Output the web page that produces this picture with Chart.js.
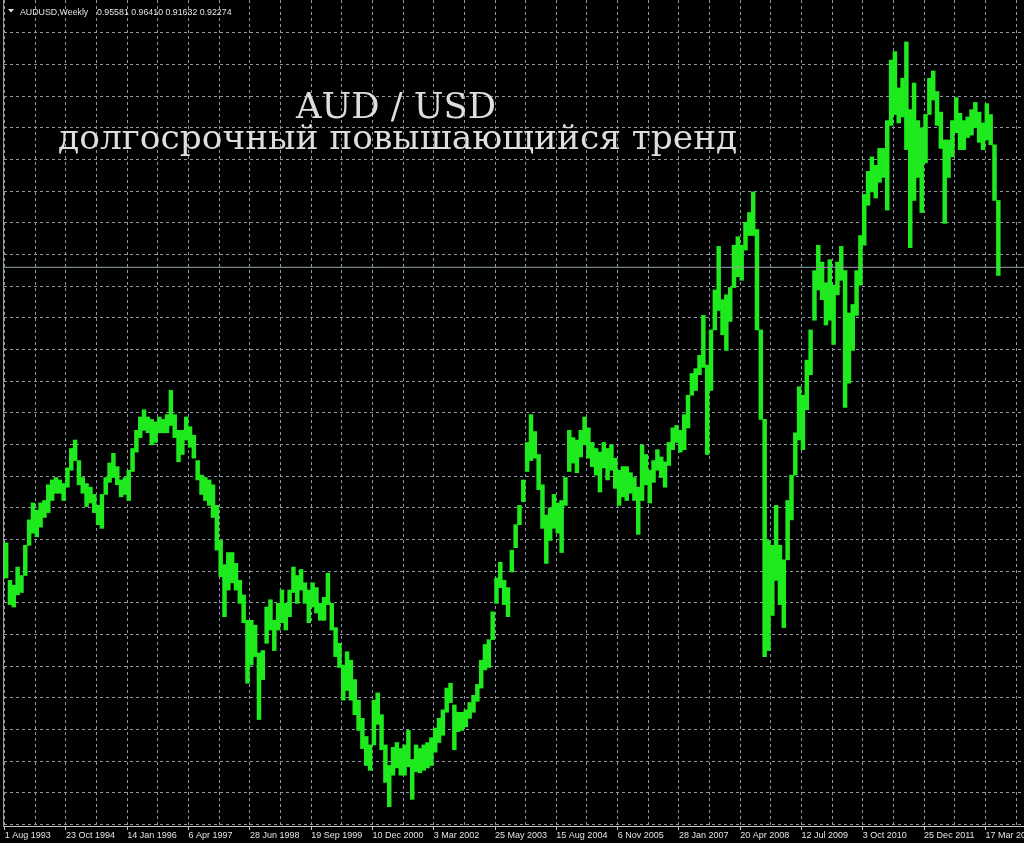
<!DOCTYPE html>
<html>
<head>
<meta charset="utf-8">
<script src="https://cdn.jsdelivr.net/npm/chart.js@4.4.1/dist/chart.umd.min.js"></script>
<style>
  html, body { margin: 0; padding: 0; background: #000; }
  #aud_chart { display: block; background: #000; }
</style>
</head>
<body>
<canvas id="aud_chart" width="1024" height="843"></canvas>
<script>
const highs = [
  0.695, 0.664, 0.660, 0.675, 0.668, 0.693, 0.714, 0.728, 0.722, 0.728,
  0.730, 0.743, 0.747, 0.749, 0.747, 0.744, 0.757, 0.773, 0.780, 0.763,
  0.749, 0.744, 0.741, 0.735, 0.726, 0.735, 0.749, 0.761, 0.769, 0.758,
  0.747, 0.749, 0.755, 0.773, 0.788, 0.799, 0.805, 0.799, 0.797, 0.795,
  0.799, 0.797, 0.801, 0.821, 0.801, 0.788, 0.788, 0.799, 0.791, 0.784,
  0.763, 0.751, 0.749, 0.747, 0.743, 0.726, 0.697, 0.677, 0.687, 0.687,
  0.678, 0.664, 0.652, 0.631, 0.631, 0.627, 0.604, 0.606, 0.642, 0.648,
  0.631, 0.645, 0.656, 0.645, 0.656, 0.675, 0.668, 0.673, 0.662, 0.656,
  0.662, 0.658, 0.645, 0.650, 0.670, 0.645, 0.625, 0.612, 0.594, 0.605,
  0.598, 0.582, 0.565, 0.550, 0.535, 0.528, 0.565, 0.571, 0.553, 0.528,
  0.511, 0.526, 0.530, 0.525, 0.528, 0.540, 0.516, 0.528, 0.525, 0.528,
  0.530, 0.534, 0.542, 0.550, 0.557, 0.575, 0.579, 0.561, 0.555, 0.555,
  0.557, 0.563, 0.569, 0.578, 0.598, 0.611, 0.615, 0.638, 0.666, 0.679,
  0.664, 0.658, 0.689, 0.710, 0.726, 0.747, 0.778, 0.801, 0.787, 0.768,
  0.743, 0.718, 0.724, 0.735, 0.728, 0.730, 0.749, 0.788, 0.782, 0.780,
  0.788, 0.799, 0.790, 0.778, 0.773, 0.770, 0.778, 0.773, 0.776, 0.765,
  0.755, 0.758, 0.758, 0.753, 0.749, 0.741, 0.776, 0.768, 0.755, 0.763,
  0.772, 0.766, 0.762, 0.778, 0.790, 0.792, 0.788, 0.801, 0.817, 0.835,
  0.839, 0.850, 0.883, 0.842, 0.871, 0.904, 0.940, 0.896, 0.900, 0.906,
  0.941, 0.948, 0.941, 0.960, 0.968, 0.985, 0.954, 0.871, 0.797, 0.697,
  0.693, 0.726, 0.693, 0.681, 0.730, 0.751, 0.786, 0.824, 0.817, 0.846,
  0.871, 0.920, 0.941, 0.927, 0.910, 0.929, 0.908, 0.927, 0.940, 0.920,
  0.885, 0.892, 0.920, 0.949, 0.983, 1.002, 1.014, 1.007, 1.021, 1.021,
  1.044, 1.094, 1.101, 1.071, 1.079, 1.109, 1.053, 1.075, 1.044, 1.038,
  1.049, 1.079, 1.085, 1.068, 1.051, 1.028, 1.028, 1.044, 1.063, 1.050,
  1.044, 1.047, 1.053, 1.059, 1.051, 1.042, 1.058, 1.049, 1.024, 0.978
];
const lows = [
  0.666, 0.644, 0.642, 0.652, 0.654, 0.668, 0.693, 0.703, 0.700, 0.708,
  0.716, 0.720, 0.730, 0.736, 0.736, 0.730, 0.741, 0.755, 0.763, 0.743,
  0.736, 0.725, 0.728, 0.720, 0.710, 0.707, 0.735, 0.745, 0.749, 0.743,
  0.733, 0.735, 0.730, 0.754, 0.770, 0.782, 0.788, 0.786, 0.776, 0.778,
  0.786, 0.786, 0.786, 0.792, 0.782, 0.762, 0.768, 0.780, 0.774, 0.765,
  0.747, 0.735, 0.730, 0.726, 0.716, 0.689, 0.667, 0.634, 0.656, 0.662,
  0.656, 0.645, 0.629, 0.579, 0.594, 0.601, 0.549, 0.582, 0.612, 0.623,
  0.606, 0.623, 0.629, 0.623, 0.634, 0.654, 0.645, 0.656, 0.645, 0.629,
  0.642, 0.637, 0.631, 0.631, 0.644, 0.623, 0.601, 0.592, 0.565, 0.573,
  0.565, 0.553, 0.540, 0.525, 0.511, 0.507, 0.528, 0.545, 0.524, 0.497,
  0.477, 0.503, 0.509, 0.503, 0.503, 0.510, 0.483, 0.506, 0.505, 0.507,
  0.509, 0.511, 0.522, 0.530, 0.536, 0.555, 0.563, 0.524, 0.539, 0.540,
  0.543, 0.550, 0.555, 0.564, 0.575, 0.590, 0.592, 0.615, 0.645, 0.658,
  0.644, 0.634, 0.671, 0.691, 0.710, 0.729, 0.754, 0.763, 0.765, 0.739,
  0.707, 0.678, 0.697, 0.707, 0.703, 0.687, 0.726, 0.754, 0.761, 0.753,
  0.766, 0.776, 0.765, 0.758, 0.751, 0.737, 0.757, 0.747, 0.755, 0.740,
  0.726, 0.733, 0.730, 0.736, 0.730, 0.702, 0.730, 0.743, 0.728, 0.745,
  0.755, 0.749, 0.741, 0.759, 0.772, 0.778, 0.770, 0.772, 0.790, 0.817,
  0.821, 0.834, 0.840, 0.768, 0.821, 0.871, 0.887, 0.867, 0.854, 0.878,
  0.906, 0.915, 0.912, 0.937, 0.949, 0.949, 0.871, 0.797, 0.601, 0.606,
  0.635, 0.664, 0.644, 0.625, 0.681, 0.714, 0.751, 0.780, 0.772, 0.805,
  0.834, 0.879, 0.904, 0.896, 0.875, 0.879, 0.859, 0.900, 0.912, 0.807,
  0.827, 0.854, 0.883, 0.908, 0.941, 0.974, 0.985, 0.980, 0.993, 0.997,
  0.970, 1.040, 1.049, 1.042, 1.047, 1.020, 0.939, 0.978, 0.997, 0.968,
  1.009, 1.049, 1.061, 1.040, 1.021, 0.959, 0.997, 1.014, 1.034, 1.020,
  1.020, 1.030, 1.032, 1.038, 1.026, 1.020, 1.028, 1.024, 0.978, 0.916
];
// one label every 64 weeks, starting at week 0
const tickLabels = [
  '1 Aug 1993', '23 Oct 1994', '14 Jan 1996', '6 Apr 1997', '28 Jun 1998',
  '19 Sep 1999', '10 Dec 2000', '3 Mar 2002', '25 May 2003', '15 Aug 2004',
  '6 Nov 2005', '28 Jan 2007', '20 Apr 2008', '12 Jul 2009', '3 Oct 2010',
  '25 Dec 2011', '17 Mar 2013'
];
const lastBar = [0.95581, 0.96410, 0.91632, 0.92274]; // open high low close
const symbol = 'AUDUSD,Weekly';
const titleLines = ['AUD / USD', 'долгосрочный повышающийся тренд'];

const weeksPerBar = 4;
const xMin = -1.775, xMax = 1064.3;    // weeks visible in the window
const yMin = 0.46101, yMax = 1.14365;
const gridTop = 1.11663, gridStep = 0.026174;  // MT4 grid spacing in price

const bars = highs.map((h, i) => ({ x: i * weeksPerBar + 1.5, y: [lows[i], h] }));
const bidLine = [{ x: xMin, y: lastBar[3] }, { x: xMax, y: lastBar[3] }];

const gridColor = '#8e99a4';
const textColor = '#e2e2e2';

const overlay = {
  id: 'overlay',
  afterDraw(chart) {
    const ctx = chart.ctx;
    ctx.save();
    ctx.fillStyle = textColor;
    // little menu triangle + symbol line
    ctx.beginPath();
    ctx.moveTo(8, 9); ctx.lineTo(14, 9); ctx.lineTo(11, 12.5);
    ctx.closePath();
    ctx.fill();
    ctx.font = '8.8px "Liberation Sans"';
    ctx.textBaseline = 'alphabetic';
    ctx.fillText(symbol, 20, 14.5);
    ctx.fillText(lastBar.map(v => v.toFixed(5)).join(' '), 97, 14.5);
    // caption
    ctx.fillStyle = '#dedede';
    ctx.font = '35.3px "DejaVu Serif"';
    ctx.fillText(titleLines[0], 296, 118);
    ctx.font = '34.4px "DejaVu Serif"';
    ctx.fillText(titleLines[1], 58, 149);
    ctx.restore();
  }
};

new Chart(document.getElementById('aud_chart'), {
  type: 'bar',
  data: {
    datasets: [
      {
        type: 'bar',
        data: bars,
        backgroundColor: '#1eea1e',
        borderWidth: 0,
        barPercentage: 1,
        categoryPercentage: 1,
        order: 2
      },
      {
        type: 'line',
        data: bidLine,
        borderColor: '#95a3a8',
        borderWidth: 1,
        pointRadius: 0,
        order: 1
      }
    ]
  },
  options: {
    responsive: false,
    animation: false,
    events: [],
    layout: { padding: { left: 3, top: 0, right: 0, bottom: 0 } },
    plugins: {
      legend: { display: false },
      tooltip: { enabled: false },
      title: { display: false }
    },
    scales: {
      x: {
        type: 'linear',
        min: xMin,
        max: xMax,
        offset: false,
        afterBuildTicks: s => {
          s.ticks = [];
          for (let w = 0; w <= 1056; w += 32) s.ticks.push({ value: w });
        },
        afterFit: s => { s.height = 17; s.paddingLeft = 0; s.paddingRight = 0; },
        ticks: {
          autoSkip: false,
          maxRotation: 0,
          minRotation: 0,
          align: 'start',
          padding: 0,
          color: textColor,
          font: { family: 'Liberation Sans', size: 9 },
          callback: v => (v % 64 === 0 ? tickLabels[v / 64] : '')
        },
        grid: {
          offset: false,
          color: gridColor,
          tickLength: 4,
          tickColor: c => (c.tick && c.tick.value % 64 === 0 ? '#c8c8c8' : 'rgba(0,0,0,0)'),
          tickBorderDash: []
        },
        border: { display: true, color: '#c8c8c8', width: 1, dash: [3, 3] }
      },
      y: {
        type: 'linear',
        min: yMin,
        max: yMax,
        afterBuildTicks: s => {
          s.ticks = [];
          for (let k = 0; k < 26; k++) s.ticks.push({ value: gridTop - k * gridStep });
        },
        afterFit: s => { s.width = 0; s.paddingTop = 0; s.paddingBottom = 0; },
        ticks: { display: false },
        grid: { color: gridColor, drawTicks: false },
        border: { display: true, color: '#9aa0a6', width: 1, dash: [3, 3] }
      }
    }
  },
  plugins: [overlay]
});
</script>
</body>
</html>
